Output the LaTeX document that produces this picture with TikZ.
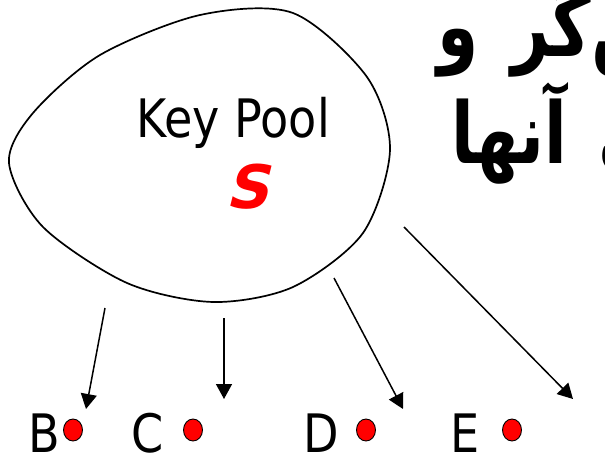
\documentclass[tikz,border=0pt]{standalone}
\usepackage{fontspec}
\usetikzlibrary{arrows.meta,shapes.geometric}
\TeXXeTstate=1
\newfontfamily\latf[FakeStretch=0.87]{DejaVu Sans}
\newfontfamily\slantf[FakeSlant=0.25]{DejaVu Sans}
\newfontfamily\faf[Script=Arabic,FakeStretch=0.78]{DejaVu Sans}
\begin{document}
\begin{tikzpicture}[x=1pt,y=-1pt,
  blob/.style={draw=black,line width=1.7pt},
  arr/.style={line width=1.5pt,-{Triangle[length=15pt,width=16pt]}},
  dot/.style={ellipse,draw=black,line width=0.9pt,fill=red,minimum width=19pt,minimum height=22pt,inner sep=0pt},
  lbl/.style={anchor=base,inner sep=0pt,font=\latf\fontsize{53}{60}\selectfont},
  fa/.style={anchor=base west,inner sep=0pt,font=\faf\bfseries\fontsize{85}{95}\selectfont}]
\useasboundingbox (0,0) rectangle (605,455);
% key pool outline
\draw[blob] plot[smooth cycle] coordinates {(9,163) (33,113) (100,55) (200,15) (293,13) (367,77) (390,150) (363,233) (293,287) (213,302) (127,283) (43,227)};
\node[lbl] (pool) at (233,137) {Key Pool};
\node[anchor=base,inner sep=0pt,text=red,font=\slantf\bfseries\fontsize{60}{70}\selectfont] (s) at (247,208) {S};
% Persian text (clipped at the right edge)
\node[fa] (t1) at (437,56) {\beginR حس‌گر\hspace{10pt} و\endR};
\node[fa] (t2) at (451,163) {\beginR ی\hspace{8pt} آنها\endR};
% receivers
\node[lbl] (B) at (44,452) {B};
\node[lbl] (C) at (148,452) {C};
\node[lbl] (D) at (321,452) {D};
\node[lbl] (E) at (465,452) {E};
\node[dot] (dB) at (73,430) {};
\node[dot] (dC) at (193,430) {};
\node[dot] (dD) at (366,430) {};
\node[dot] (dE) at (512,430) {};
% arrows
\coordinate (bs) at (105,308); \coordinate (bt) at (86,409);
\coordinate (cs) at (224,318); \coordinate (ct) at (224,399);
\coordinate (ds) at (334,278); \coordinate (dt) at (403,409);
\coordinate (es) at (404,227); \coordinate (et) at (573,399);
\draw[arr] (bs) -- (bt);
\draw[arr] (cs) -- (ct);
\draw[arr] (ds) -- (dt);
\draw[arr] (es) -- (et);
\end{tikzpicture}
\end{document}
